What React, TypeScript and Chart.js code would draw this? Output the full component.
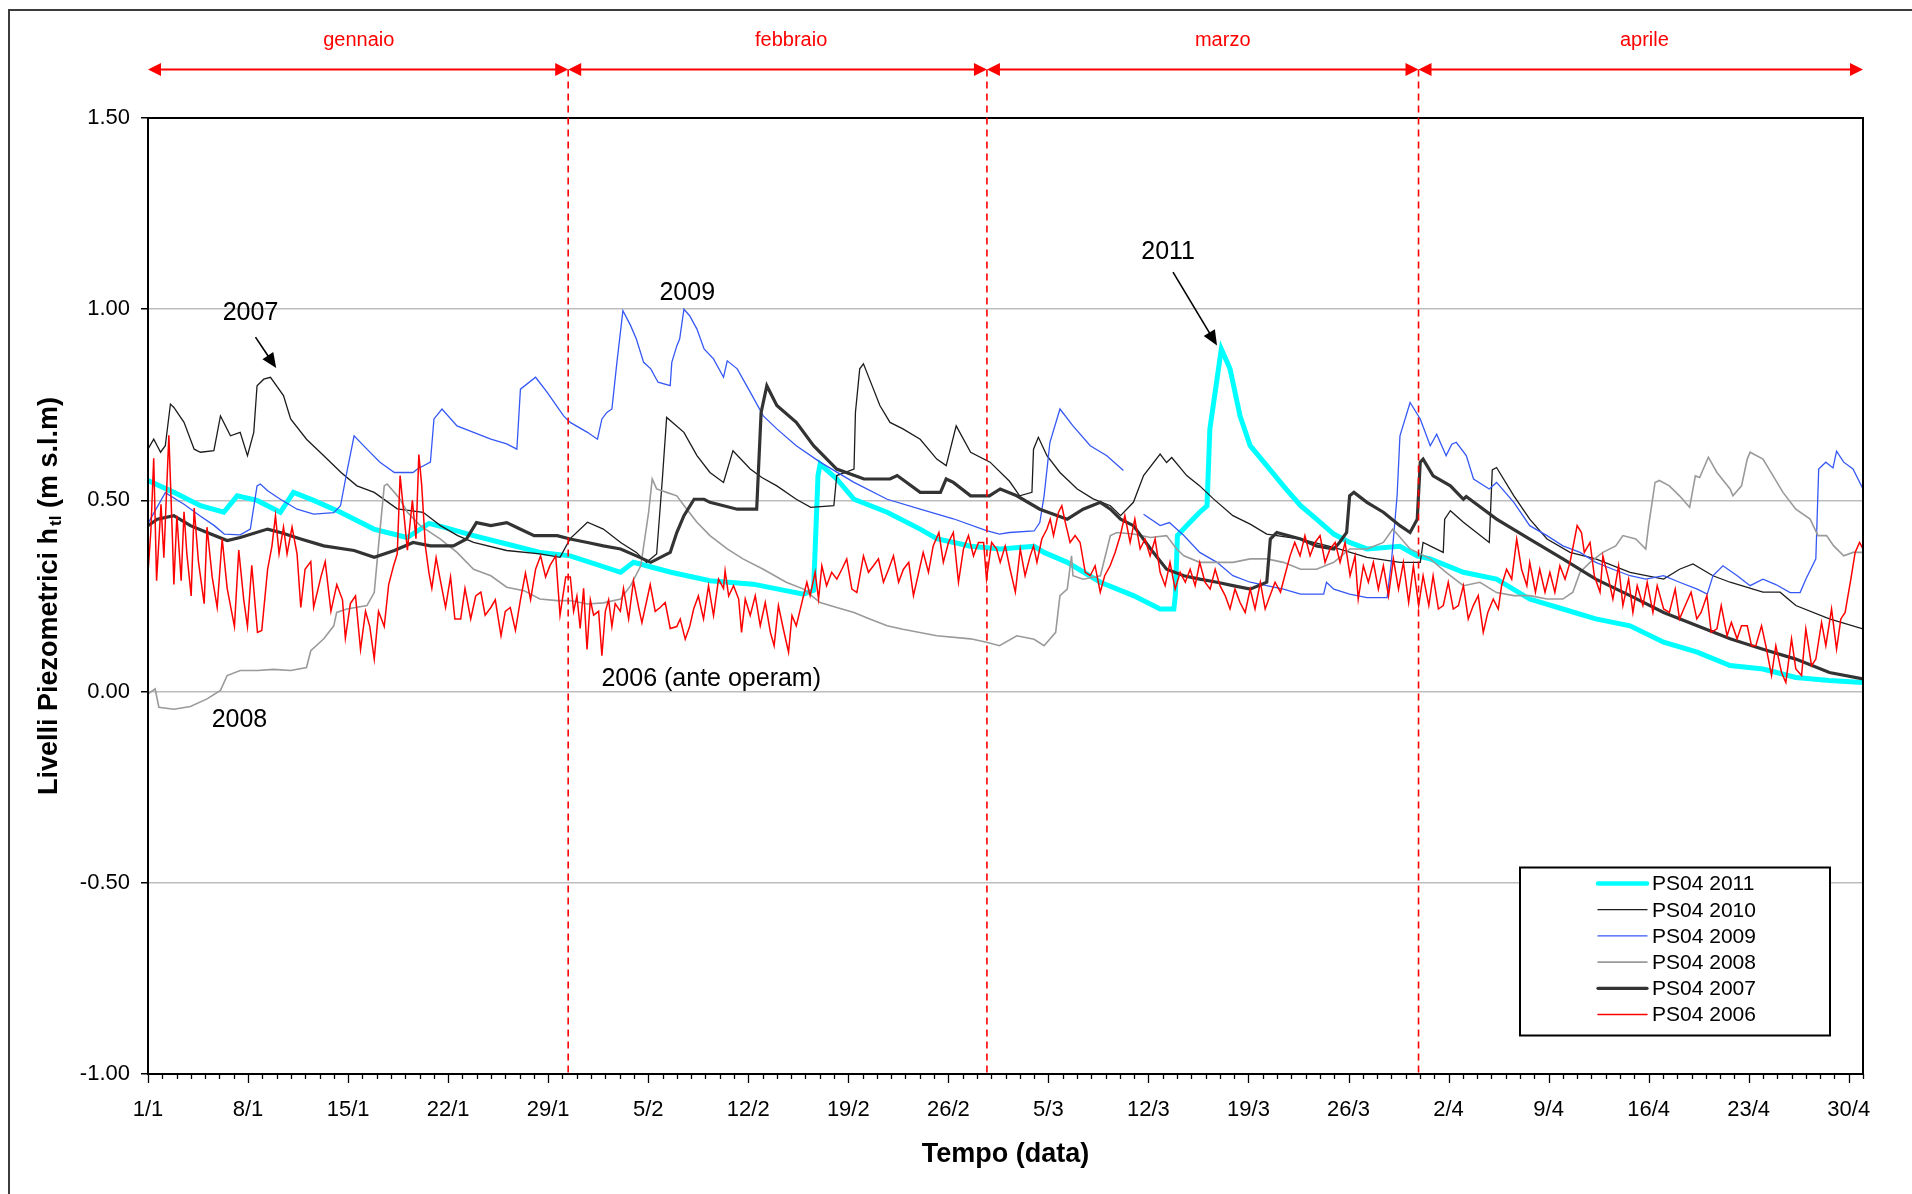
import React, { useEffect, useRef } from 'react';
import { Chart, registerables } from 'chart.js';

Chart.register(...registerables);

const FONT = "'Liberation Sans', Arial, Helvetica, sans-serif";

// ---- axes ----
const X_MIN = 0;
const X_MAX = 120;
const X_TICK_DAYS = [0, 7, 14, 21, 28, 35, 42, 49, 56, 63, 70, 77, 84, 91, 98, 105, 112, 119];
const X_TICK_LABELS = ['1/1', '8/1', '15/1', '22/1', '29/1', '5/2', '12/2', '19/2', '26/2', '5/3', '12/3', '19/3', '26/3', '2/4', '9/4', '16/4', '23/4', '30/4'];
const Y_MIN = -1;
const Y_MAX = 1.5;
const Y_STEP = 0.5;
const X_TITLE = 'Tempo (data)';
const Y_TITLE_MAIN = 'Livelli Piezometrici h';
const Y_TITLE_SUB = 'tl';
const Y_TITLE_END = ' (m s.l.m)';

// ---- months ----
const MONTH_NAMES = ['gennaio', 'febbraio', 'marzo', 'aprile'];
const MONTH_BOUNDS = [0, 29.4, 58.7, 88.9, 120];
const MONTH_LABEL_POS = [14.75, 45.0, 75.2, 104.7];

// ---- annotations (day, level) ----
const NOTE_TEXTS = ['2007', '2009', '2011', '2008', '2006 (ante operam)'];
const NOTE_X = [7.17, 37.73, 71.38, 6.4, 39.41];
const NOTE_Y = [0.99, 1.042, 1.149, -0.074, 0.033];
const NOTE_ARROWS = [
  [7.52, 0.927, 8.97, 0.846],
  [71.72, 1.097, 74.8, 0.905],
];

// ---- series ----
const SERIES_LABELS = ['PS04 2011', 'PS04 2010', 'PS04 2009', 'PS04 2008', 'PS04 2007', 'PS04 2006'];

const S2011 = [
  [0, 0.552], [1.81, 0.521], [3.67, 0.486], [5.3, 0.469], [6.24, 0.512], [7.63, 0.5], [9.26, 0.469], [10.18, 0.521],
  [11.59, 0.5], [13.47, 0.469], [15.8, 0.425], [18.13, 0.403], [18.85, 0.42], [19.66, 0.44], [20.67, 0.43], [22.78, 0.408],
  [25.1, 0.386], [27.42, 0.364], [29.54, 0.355], [33.07, 0.312], [33.97, 0.338], [36.59, 0.312], [39.32, 0.29], [42.34, 0.281],
  [45.87, 0.255], [46.57, 0.265], [46.88, 0.565], [47.03, 0.595], [48.19, 0.556], [49.4, 0.503], [51.72, 0.469], [54.03, 0.425],
  [55.19, 0.4], [57.56, 0.38], [59.63, 0.373], [62.0, 0.38], [62.7, 0.364], [64.32, 0.338], [66.64, 0.286], [68.95, 0.251],
  [70.82, 0.216], [71.78, 0.216], [71.88, 0.25], [72.03, 0.408], [72.89, 0.442], [73.59, 0.469], [74.1, 0.486], [74.3, 0.687],
  [74.8, 0.817], [75.1, 0.896], [75.71, 0.844], [76.41, 0.721], [77.12, 0.643], [78.28, 0.591], [79.44, 0.538], [80.65, 0.486],
  [81.76, 0.451], [82.97, 0.412], [84.08, 0.39], [85.29, 0.373], [87.6, 0.38], [88.81, 0.355], [89.72, 0.347], [92.04, 0.312],
  [94.36, 0.294], [96.68, 0.242], [99.0, 0.216], [101.3, 0.19], [103.7, 0.172], [106.05, 0.129], [108.4, 0.103], [110.7, 0.068],
  [113.0, 0.059], [115.3, 0.037], [117.65, 0.029], [120, 0.024],
];

const S2010 = [
  [0, 0.634], [0.4, 0.66], [0.88, 0.626], [1.21, 0.643], [1.57, 0.752], [1.81, 0.743], [2.52, 0.704], [3.23, 0.634],
  [3.67, 0.626], [4.61, 0.63], [5.07, 0.721], [5.77, 0.669], [6.45, 0.678], [6.96, 0.617], [7.4, 0.678], [7.63, 0.8],
  [8.1, 0.817], [8.57, 0.822], [9.48, 0.774], [9.98, 0.713], [11.09, 0.66], [12.3, 0.617], [13.51, 0.573], [14.62, 0.538],
  [15.83, 0.521], [17.44, 0.478], [19.25, 0.469], [20.46, 0.434], [21.67, 0.408], [22.78, 0.39], [25.1, 0.369], [27.42, 0.36],
  [28.83, 0.351], [29.54, 0.4], [30.75, 0.443], [31.86, 0.425], [33.07, 0.39], [34.17, 0.364], [34.88, 0.338], [35.59, 0.36],
  [35.99, 0.556], [36.29, 0.717], [37.5, 0.678], [38.41, 0.617], [39.32, 0.573], [40.27, 0.547], [40.93, 0.63], [42.14, 0.582],
  [42.95, 0.56], [44.0, 0.538], [45.36, 0.503], [46.37, 0.482], [47.99, 0.486], [48.19, 0.565], [49.4, 0.582], [49.5, 0.73],
  [49.8, 0.844], [50.06, 0.857], [50.76, 0.791], [51.21, 0.748], [51.92, 0.704], [52.82, 0.687], [54.03, 0.66], [55.19, 0.608],
  [55.85, 0.591], [56.55, 0.695], [57.56, 0.626], [58.92, 0.6], [60.28, 0.55], [60.99, 0.512], [61.85, 0.521], [61.96, 0.634],
  [62.3, 0.665], [62.9, 0.617], [63.81, 0.573], [65.02, 0.53], [66.13, 0.504], [67.34, 0.486], [68.05, 0.46], [68.95, 0.495],
  [69.66, 0.565], [70.82, 0.621], [71.27, 0.599], [71.63, 0.612], [72.68, 0.565], [73.59, 0.538], [74.55, 0.504], [75.91, 0.46],
  [77.12, 0.438], [78.28, 0.412], [80.65, 0.399], [82.97, 0.377], [85.29, 0.351], [87.6, 0.338], [89.02, 0.338], [89.22, 0.39],
  [90.63, 0.364], [90.73, 0.451], [91.13, 0.473], [92.04, 0.443], [93.85, 0.39], [94.06, 0.58], [94.36, 0.586], [95.57, 0.512],
  [96.68, 0.451], [97.89, 0.399], [99.5, 0.364], [101.3, 0.347], [103.7, 0.312], [106.05, 0.294], [107.16, 0.32], [108.1, 0.334],
  [109.5, 0.303], [110.7, 0.286], [113.0, 0.26], [114.2, 0.26], [115.3, 0.225], [117.65, 0.19], [120, 0.164],
];

const S2009 = [
  [0, 0.44], [1.21, 0.52], [2.52, 0.49], [3.63, 0.46], [4.64, 0.434], [5.34, 0.412], [6.45, 0.41], [7.16, 0.425],
  [7.63, 0.538], [7.86, 0.543], [8.37, 0.525], [9.26, 0.503], [10.43, 0.477], [11.59, 0.464], [13.0, 0.468], [13.47, 0.486],
  [13.91, 0.573], [14.42, 0.669], [15.32, 0.634], [16.23, 0.6], [17.24, 0.573], [18.55, 0.573], [18.85, 0.582], [19.76, 0.6],
  [20.01, 0.713], [20.57, 0.739], [21.62, 0.695], [22.78, 0.678], [23.99, 0.66], [25.1, 0.648], [25.81, 0.634], [26.06, 0.791],
  [27.12, 0.822], [27.92, 0.783], [29.08, 0.721], [29.54, 0.704], [30.75, 0.678], [31.45, 0.66], [31.76, 0.713], [32.11, 0.73],
  [32.46, 0.739], [32.56, 0.774], [32.81, 0.861], [33.23, 0.996], [33.77, 0.957], [34.17, 0.922], [34.68, 0.861], [35.18, 0.844],
  [35.69, 0.809], [36.54, 0.8], [36.65, 0.861], [37.0, 0.904], [37.2, 0.922], [37.5, 1.0], [37.9, 0.983], [38.41, 0.948],
  [38.91, 0.896], [39.57, 0.87], [40.27, 0.822], [40.53, 0.865], [41.23, 0.844], [42.14, 0.783], [43.05, 0.721], [44.0, 0.687],
  [45.36, 0.643], [47.03, 0.6], [49.4, 0.547], [51.72, 0.503], [54.03, 0.477], [56.35, 0.452], [58.67, 0.421], [59.58, 0.412],
  [60.28, 0.416], [62.0, 0.42], [62.4, 0.442], [62.7, 0.512], [63.11, 0.652], [63.81, 0.739], [64.72, 0.695], [65.93, 0.643],
  [67.09, 0.617], [68.25, 0.578], [68.9, null], [69.66, 0.464], [70.82, 0.434], [71.47, 0.442], [72.48, 0.408], [73.59, 0.364],
  [74.8, 0.338], [75.91, 0.303], [77.12, 0.286], [78.28, 0.277], [79.44, 0.268], [80.65, 0.255], [82.26, 0.255], [82.46, 0.286],
  [82.97, 0.268], [84.08, 0.255], [85.29, 0.246], [86.7, 0.246], [87.0, 0.338], [87.4, 0.512], [87.6, 0.669], [88.31, 0.756],
  [89.02, 0.713], [89.72, 0.643], [90.17, 0.673], [90.83, 0.617], [91.23, 0.647], [91.54, 0.652], [92.24, 0.617], [92.75, 0.556],
  [93.85, 0.53], [94.36, 0.547], [95.57, 0.495], [96.68, 0.434], [97.89, 0.408], [99.0, 0.381], [100.2, 0.364], [101.3, 0.338],
  [102.5, 0.32], [103.7, 0.303], [104.8, 0.294], [106.05, 0.303], [107.16, 0.286], [108.4, 0.268], [109.1, 0.255], [109.5, 0.303],
  [110.2, 0.329], [111.2, 0.303], [112.1, 0.277], [113.0, 0.294], [113.9, 0.28], [114.9, 0.259], [115.6, 0.259], [116.0, 0.294],
  [116.7, 0.347], [116.9, 0.582], [117.4, 0.6], [117.9, 0.585], [118.15, 0.629], [118.65, 0.6], [119.3, 0.582], [120, 0.53],
];

const S2008 = [
  [0, -0.006], [0.5, 0.007], [0.76, -0.041], [1.81, -0.046], [2.97, -0.039], [4.13, -0.019], [5.07, 0.003], [5.54, 0.042],
  [6.45, 0.055], [7.66, 0.055], [8.77, 0.058], [9.98, 0.055], [11.09, 0.063], [11.39, 0.107], [12.3, 0.138], [13.0, 0.172],
  [13.2, 0.207], [13.91, 0.216], [15.32, 0.225], [15.83, 0.259], [16.13, 0.381], [16.53, 0.538], [16.73, 0.543], [17.24, 0.521],
  [17.64, 0.503], [18.15, 0.469], [19.05, 0.434], [20.46, 0.399], [21.62, 0.364], [22.78, 0.32], [23.99, 0.303], [25.1, 0.273],
  [26.31, 0.264], [27.42, 0.242], [28.63, 0.238], [29.54, 0.238], [30.75, 0.229], [31.86, 0.232], [33.07, 0.242], [33.77, 0.277],
  [34.48, 0.329], [35.03, 0.469], [35.28, 0.556], [35.59, 0.53], [36.29, 0.521], [37.0, 0.512], [37.7, 0.477], [38.41, 0.443],
  [39.32, 0.408], [40.53, 0.373], [41.63, 0.347], [43.05, 0.32], [44.66, 0.286], [45.87, 0.268], [47.03, 0.233], [48.19, 0.22],
  [49.4, 0.207], [50.5, 0.19], [51.72, 0.172], [52.82, 0.163], [55.19, 0.146], [57.56, 0.138], [58.67, 0.129], [59.58, 0.12],
  [60.79, 0.146], [62.0, 0.137], [62.7, 0.12], [63.51, 0.155], [63.81, 0.251], [64.32, 0.268], [64.62, 0.355], [64.72, 0.303],
  [65.43, 0.294], [66.64, 0.303], [67.34, 0.408], [67.8, 0.416], [68.95, 0.412], [70.16, 0.403], [71.27, 0.408], [71.98, 0.373],
  [72.48, 0.355], [73.59, 0.338], [74.8, 0.338], [75.91, 0.338], [77.12, 0.347], [78.28, 0.347], [79.44, 0.338], [80.65, 0.32],
  [81.76, 0.32], [82.97, 0.338], [84.08, 0.373], [85.29, 0.373], [86.44, 0.39], [87.1, 0.425], [88.31, 0.373], [89.72, 0.347],
  [90.83, 0.312], [92.04, 0.277], [93.2, 0.286], [94.36, 0.259], [95.57, 0.251], [96.68, 0.251], [97.89, 0.242], [99.0, 0.242],
  [99.7, 0.26], [100.2, 0.312], [100.9, 0.338], [101.8, 0.364], [102.7, 0.381], [103.2, 0.408], [104.1, 0.399], [104.8, 0.373],
  [105.0, 0.434], [105.45, 0.547], [105.75, 0.552], [106.45, 0.538], [107.16, 0.512], [107.87, 0.482], [108.27, 0.564], [108.57, 0.56],
  [109.18, 0.613], [109.78, 0.573], [110.7, 0.53], [110.9, 0.512], [111.5, 0.538], [111.9, 0.608], [112.1, 0.626], [113.0, 0.608],
  [113.7, 0.565], [114.4, 0.521], [115.3, 0.477], [116.3, 0.451], [116.85, 0.408], [117.45, 0.408], [117.95, 0.381], [118.65, 0.355],
  [119.3, 0.364], [120, 0.364],
];

const S2007 = [
  [0, 0.434], [0.65, 0.451], [1.81, 0.46], [2.97, 0.434], [4.13, 0.416], [5.54, 0.395], [6.45, 0.403], [8.37, 0.425],
  [9.27, 0.416], [10.69, 0.399], [12.3, 0.381], [14.42, 0.369], [15.83, 0.351], [17.24, 0.369], [18.55, 0.39], [19.76, 0.381],
  [21.37, 0.381], [22.28, 0.399], [22.98, 0.442], [23.99, 0.434], [25.1, 0.442], [25.81, 0.429], [27.02, 0.408], [28.63, 0.408],
  [29.54, 0.399], [30.75, 0.39], [31.86, 0.381], [33.07, 0.373], [34.17, 0.355], [35.18, 0.338], [36.54, 0.364], [37.0, 0.416],
  [37.5, 0.46], [38.21, 0.503], [38.91, 0.503], [39.32, 0.495], [41.23, 0.477], [42.59, 0.477], [42.9, 0.73], [43.3, 0.8],
  [44.0, 0.748], [45.36, 0.704], [46.57, 0.643], [48.19, 0.582], [50.1, 0.556], [51.92, 0.556], [52.42, 0.565], [54.03, 0.521],
  [55.45, 0.521], [55.85, 0.556], [56.35, 0.547], [57.56, 0.512], [58.87, 0.512], [59.63, 0.53], [60.79, 0.512], [62.4, 0.477],
  [64.32, 0.451], [65.43, 0.477], [66.64, 0.495], [67.34, 0.477], [68.05, 0.451], [68.95, 0.434], [70.16, 0.373], [71.27, 0.32],
  [72.48, 0.303], [73.59, 0.294], [74.8, 0.286], [75.91, 0.277], [77.12, 0.268], [78.28, 0.286], [78.53, 0.399], [78.98, 0.416],
  [80.65, 0.399], [81.76, 0.381], [82.97, 0.373], [83.37, 0.39], [83.87, 0.416], [84.08, 0.512], [84.38, 0.521], [85.29, 0.495],
  [86.44, 0.469], [87.6, 0.434], [88.31, 0.416], [88.81, 0.451], [89.02, 0.6], [89.22, 0.608], [89.92, 0.564], [91.13, 0.538],
  [92.04, 0.503], [92.24, 0.51], [94.36, 0.451], [96.68, 0.399], [99.0, 0.347], [101.3, 0.294], [103.7, 0.251], [106.05, 0.207],
  [108.4, 0.172], [110.7, 0.138], [113.0, 0.111], [115.3, 0.085], [117.65, 0.05], [120, 0.033],
];

const S2006 = [
  [0, 0.31], [0.2, 0.42], [0.4, 0.61], [0.6, 0.29], [0.91, 0.49], [1.11, 0.35], [1.46, 0.67], [1.71, 0.4],
  [1.81, 0.28], [2.02, 0.46], [2.32, 0.29], [2.52, 0.47], [2.72, 0.36], [3.02, 0.25], [3.23, 0.48], [3.53, 0.34],
  [3.93, 0.23], [4.13, 0.43], [4.49, 0.3], [4.84, 0.22], [5.19, 0.4], [5.54, 0.27], [6.05, 0.17], [6.35, 0.37],
  [6.7, 0.24], [6.96, 0.17], [7.26, 0.33], [7.66, 0.155], [7.96, 0.16], [8.37, 0.32], [8.67, 0.38], [8.92, 0.46],
  [9.17, 0.36], [9.48, 0.43], [9.73, 0.36], [10.08, 0.43], [10.43, 0.36], [10.69, 0.22], [10.99, 0.32], [11.39, 0.34],
  [11.59, 0.22], [12.1, 0.3], [12.4, 0.34], [12.8, 0.21], [13.21, 0.28], [13.61, 0.24], [13.81, 0.14], [14.16, 0.23],
  [14.52, 0.25], [14.87, 0.11], [15.22, 0.21], [15.52, 0.17], [15.83, 0.085], [16.13, 0.21], [16.53, 0.17], [16.84, 0.28],
  [17.19, 0.33], [17.44, 0.36], [17.64, 0.565], [17.89, 0.47], [18.15, 0.37], [18.5, 0.5], [18.75, 0.4], [18.95, 0.62],
  [19.15, 0.54], [19.41, 0.38], [19.66, 0.31], [19.86, 0.27], [20.16, 0.35], [20.46, 0.29], [20.82, 0.22], [21.17, 0.3],
  [21.47, 0.19], [21.88, 0.19], [22.18, 0.27], [22.58, 0.19], [22.93, 0.25], [23.29, 0.26], [23.59, 0.2], [23.99, 0.22],
  [24.3, 0.24], [24.7, 0.146], [25.0, 0.21], [25.35, 0.22], [25.71, 0.16], [26.06, 0.24], [26.41, 0.31], [26.77, 0.24],
  [27.12, 0.32], [27.47, 0.355], [27.82, 0.3], [28.13, 0.33], [28.53, 0.355], [28.83, 0.2], [29.23, 0.3], [29.55, 0.3],
  [29.78, 0.21], [30.01, 0.25], [30.24, 0.165], [30.48, 0.27], [30.72, 0.11], [30.95, 0.24], [31.18, 0.2], [31.53, 0.21],
  [31.76, 0.094], [32.0, 0.21], [32.23, 0.24], [32.46, 0.17], [32.69, 0.23], [33.05, 0.21], [33.27, 0.27], [33.63, 0.19],
  [33.97, 0.29], [34.33, 0.22], [34.56, 0.18], [35.14, 0.28], [35.49, 0.21], [35.84, 0.22], [36.19, 0.233], [36.54, 0.165],
  [37.0, 0.17], [37.24, 0.19], [37.59, 0.137], [37.9, 0.17], [38.18, 0.216], [38.51, 0.25], [38.87, 0.19], [39.22, 0.277],
  [39.57, 0.199], [39.92, 0.294], [40.27, 0.27], [40.38, 0.316], [40.63, 0.25], [40.97, 0.277], [41.33, 0.242], [41.53, 0.155],
  [41.79, 0.242], [42.14, 0.199], [42.49, 0.251], [42.84, 0.172], [43.19, 0.233], [43.55, 0.155], [43.81, 0.12], [44.11, 0.225],
  [44.46, 0.163], [44.82, 0.103], [45.06, 0.199], [45.36, 0.172], [45.87, 0.251], [46.1, 0.286], [46.33, 0.251], [46.68, 0.312],
  [46.92, 0.242], [47.15, 0.329], [47.48, 0.277], [47.84, 0.312], [48.2, 0.294], [48.55, 0.32], [48.89, 0.347], [49.25, 0.268],
  [49.6, 0.259], [50.06, 0.355], [50.41, 0.312], [50.76, 0.329], [51.11, 0.347], [51.46, 0.286], [51.82, 0.32], [52.16, 0.355],
  [52.52, 0.286], [52.86, 0.32], [53.23, 0.338], [53.56, 0.251], [53.93, 0.312], [54.24, 0.364], [54.61, 0.312], [54.94, 0.381],
  [55.34, 0.416], [55.65, 0.338], [56.01, 0.39], [56.35, 0.416], [56.71, 0.286], [57.06, 0.373], [57.41, 0.408], [57.76, 0.355],
  [58.11, 0.39], [58.47, 0.39], [58.67, 0.294], [59.03, 0.39], [59.38, 0.373], [59.63, 0.338], [59.98, 0.381], [60.32, 0.32],
  [60.69, 0.26], [61.03, 0.373], [61.37, 0.303], [61.73, 0.355], [61.96, 0.381], [62.2, 0.338], [62.54, 0.399], [62.9, 0.425],
  [63.13, 0.451], [63.36, 0.408], [63.71, 0.469], [63.94, 0.486], [64.18, 0.443], [64.52, 0.39], [64.87, 0.408], [65.22, 0.39],
  [65.58, 0.312], [65.93, 0.303], [66.27, 0.329], [66.63, 0.26], [66.94, 0.303], [67.32, 0.329], [67.67, 0.364], [68.03, 0.408],
  [68.35, 0.46], [68.72, 0.39], [69.05, 0.451], [69.42, 0.373], [69.76, 0.399], [70.12, 0.355], [70.47, 0.399], [70.82, 0.312],
  [71.17, 0.277], [71.51, 0.338], [71.87, 0.268], [72.22, 0.312], [72.58, 0.286], [72.92, 0.32], [73.27, 0.277], [73.59, 0.338],
  [73.96, 0.286], [74.32, 0.268], [74.67, 0.32], [75.01, 0.277], [75.37, 0.251], [75.71, 0.216], [76.06, 0.268], [76.41, 0.233],
  [76.77, 0.207], [77.12, 0.268], [77.46, 0.216], [77.83, 0.286], [78.17, 0.216], [78.51, 0.251], [78.86, 0.286], [79.24, 0.26],
  [79.54, 0.303], [79.91, 0.355], [80.24, 0.39], [80.61, 0.355], [80.95, 0.408], [81.31, 0.355], [81.66, 0.39], [82.01, 0.408],
  [82.36, 0.338], [82.71, 0.373], [83.07, 0.39], [83.41, 0.338], [83.76, 0.39], [84.11, 0.303], [84.46, 0.355], [84.68, 0.242],
  [85.04, 0.329], [85.39, 0.286], [85.74, 0.338], [86.09, 0.268], [86.44, 0.329], [86.8, 0.25], [87.14, 0.347], [87.5, 0.268],
  [87.84, 0.338], [88.21, 0.233], [88.54, 0.329], [88.91, 0.225], [89.22, 0.303], [89.62, 0.225], [89.92, 0.303], [90.29, 0.216],
  [90.63, 0.225], [90.98, 0.286], [91.33, 0.216], [91.69, 0.225], [92.04, 0.277], [92.38, 0.19], [92.73, 0.225], [93.08, 0.251],
  [93.43, 0.155], [93.75, 0.207], [94.13, 0.242], [94.48, 0.216], [94.71, 0.277], [95.06, 0.32], [95.42, 0.294], [95.77, 0.399],
  [96.11, 0.32], [96.48, 0.277], [96.68, 0.338], [97.08, 0.26], [97.38, 0.32], [97.75, 0.26], [98.09, 0.312], [98.44, 0.26],
  [98.79, 0.329], [99.15, 0.294], [99.5, 0.338], [100.0, 0.434], [100.3, 0.416], [100.5, 0.364], [100.9, 0.39], [101.2, 0.303],
  [101.6, 0.26], [101.8, 0.355], [102.2, 0.294], [102.5, 0.242], [102.9, 0.329], [103.2, 0.225], [103.6, 0.294], [103.9, 0.207],
  [104.2, 0.277], [104.6, 0.225], [104.9, 0.286], [105.3, 0.207], [105.6, 0.277], [106.05, 0.216], [106.45, 0.207], [106.86, 0.268],
  [107.16, 0.19], [107.56, 0.225], [107.97, 0.26], [108.37, 0.19], [108.67, 0.207], [109.08, 0.251], [109.38, 0.155], [109.78, 0.164],
  [110.08, 0.225], [110.49, 0.146], [110.79, 0.181], [111.19, 0.138], [111.5, 0.172], [111.9, 0.172], [112.2, 0.12], [112.5, 0.12],
  [112.9, 0.172], [113.2, 0.12], [113.6, 0.042], [113.9, 0.12], [114.3, 0.05], [114.6, 0.024], [115.0, 0.138], [115.3, 0.059],
  [115.7, 0.042], [116.0, 0.164], [116.4, 0.068], [116.7, 0.085], [117.1, 0.181], [117.4, 0.12], [117.8, 0.216], [118.15, 0.111],
  [118.45, 0.19], [118.75, 0.207], [118.95, 0.251], [119.15, 0.294], [119.45, 0.364], [119.76, 0.39], [120, 0.373],
];

const SERIES_DATA = [S2011, S2010, S2009, S2008, S2007, S2006];
const SERIES_COLORS = ['#00FFFF', '#1c1c1c', '#3558F5', '#9a9a9a', '#333333', '#FF0000'];
const SERIES_WIDTHS = [5, 1.3, 1.3, 1.6, 3.2, 1.5];
const SERIES_ORDER = [6, 5, 4, 3, 2, 1];

function arrowHead(ctx: CanvasRenderingContext2D, x1: number, y1: number, x2: number, y2: number, len: number, hw: number) {
  const ang = Math.atan2(y2 - y1, x2 - x1);
  const c = Math.cos(ang), s = Math.sin(ang);
  ctx.beginPath();
  ctx.moveTo(x2, y2);
  ctx.lineTo(x2 - len * c + hw * s, y2 - len * s - hw * c);
  ctx.lineTo(x2 - len * c - hw * s, y2 - len * s + hw * c);
  ctx.closePath();
  ctx.fill();
}

const decorPlugin = {
  id: 'decor',
  beforeDraw(chart: any) {
    const ctx = chart.ctx as CanvasRenderingContext2D;
    ctx.save();
    ctx.fillStyle = '#ffffff';
    ctx.fillRect(0, 0, chart.width, chart.height);
    ctx.strokeStyle = '#3c3c3c';
    ctx.lineWidth = 2;
    ctx.beginPath();
    ctx.moveTo(9, chart.height + 5);
    ctx.lineTo(9, 10);
    ctx.lineTo(chart.width + 5, 10);
    ctx.stroke();
    ctx.restore();
  },
  afterDraw(chart: any) {
    const ctx = chart.ctx as CanvasRenderingContext2D;
    const a = chart.chartArea;
    const xs = chart.scales.x;
    const ys = chart.scales.y;
    ctx.save();

    // plot frame
    ctx.strokeStyle = '#000';
    ctx.lineWidth = 2;
    ctx.strokeRect(a.left, a.top, a.right - a.left, a.bottom - a.top);

    // x ticks (daily minor, weekly major)
    ctx.lineWidth = 1.3;
    ctx.beginPath();
    for (let d = X_MIN; d <= X_MAX; d++) {
      const px = Math.round(xs.getPixelForValue(d)) + 0.5;
      const major = X_TICK_DAYS.indexOf(d) >= 0;
      ctx.moveTo(px, a.bottom);
      ctx.lineTo(px, a.bottom + (major ? 9 : 5));
    }
    ctx.stroke();

    // month dividers and arrows
    const arrowY = a.top - 48.5;
    const labelY = a.top - 78;
    ctx.strokeStyle = '#FF0000';
    ctx.fillStyle = '#FF0000';
    ctx.lineWidth = 1.6;
    ctx.setLineDash([7, 5]);
    for (let i = 1; i < MONTH_BOUNDS.length - 1; i++) {
      const px = xs.getPixelForValue(MONTH_BOUNDS[i]);
      ctx.beginPath();
      ctx.moveTo(px, arrowY);
      ctx.lineTo(px, a.bottom);
      ctx.stroke();
    }
    ctx.setLineDash([]);
    ctx.lineWidth = 2;
    for (let i = 0; i < MONTH_BOUNDS.length - 1; i++) {
      const p0 = xs.getPixelForValue(MONTH_BOUNDS[i]);
      const p1 = xs.getPixelForValue(MONTH_BOUNDS[i + 1]);
      ctx.beginPath();
      ctx.moveTo(p0 + 4, arrowY);
      ctx.lineTo(p1 - 4, arrowY);
      ctx.stroke();
      arrowHead(ctx, p0 + 20, arrowY, p0, arrowY, 13, 6.5);
      arrowHead(ctx, p1 - 20, arrowY, p1, arrowY, 13, 6.5);
    }
    ctx.font = `20px ${FONT}`;
    ctx.textAlign = 'center';
    ctx.textBaseline = 'middle';
    MONTH_NAMES.forEach((m, i) => {
      ctx.fillText(m, xs.getPixelForValue(MONTH_LABEL_POS[i]), labelY);
    });

    // annotations
    ctx.fillStyle = '#000';
    ctx.strokeStyle = '#000';
    ctx.font = `25px ${FONT}`;
    NOTE_TEXTS.forEach((t, i) => {
      ctx.fillText(t, xs.getPixelForValue(NOTE_X[i]), ys.getPixelForValue(NOTE_Y[i]));
    });
    ctx.lineWidth = 1.6;
    NOTE_ARROWS.forEach(([x0, y0, x1, y1]) => {
      const px0 = xs.getPixelForValue(x0), py0 = ys.getPixelForValue(y0);
      const px1 = xs.getPixelForValue(x1), py1 = ys.getPixelForValue(y1);
      const ang = Math.atan2(py1 - py0, px1 - px0);
      ctx.beginPath();
      ctx.moveTo(px0, py0);
      ctx.lineTo(px1 - 10 * Math.cos(ang), py1 - 10 * Math.sin(ang));
      ctx.stroke();
      arrowHead(ctx, px0, py0, px1, py1, 15, 6.5);
    });

    // legend
    const lx = a.right - 343, ly = ys.getPixelForValue(-0.46);
    const lw = 310, lh = 168;
    ctx.fillStyle = '#fff';
    ctx.fillRect(lx, ly, lw, lh);
    ctx.strokeStyle = '#000';
    ctx.lineWidth = 2;
    ctx.strokeRect(lx, ly, lw, lh);
    ctx.font = `21px ${FONT}`;
    ctx.textAlign = 'left';
    ctx.textBaseline = 'middle';
    chart.data.datasets.forEach((ds: any, i: number) => {
      const ry = ly + 16 + i * 26.2;
      ctx.strokeStyle = ds.borderColor;
      ctx.lineWidth = Math.min(ds.borderWidth, 4.5);
      ctx.lineCap = 'round';
      ctx.beginPath();
      ctx.moveTo(lx + 78, ry);
      ctx.lineTo(lx + 127, ry);
      ctx.stroke();
      ctx.lineCap = 'butt';
      ctx.fillStyle = '#000';
      ctx.fillText(ds.label, lx + 132, ry + 1);
    });

    // axis titles
    ctx.fillStyle = '#000';
    ctx.font = `bold 27px ${FONT}`;
    ctx.textAlign = 'center';
    ctx.textBaseline = 'middle';
    ctx.fillText(X_TITLE, (a.left + a.right) / 2, a.bottom + 81);

    ctx.save();
    ctx.translate(50, (a.top + a.bottom) / 2);
    ctx.rotate(-Math.PI / 2);
    const bigF = `bold 27px ${FONT}`;
    const subF = `bold 17px ${FONT}`;
    ctx.font = bigF;
    const w1 = ctx.measureText(Y_TITLE_MAIN).width;
    const w3 = ctx.measureText(Y_TITLE_END).width;
    ctx.font = subF;
    const w2 = ctx.measureText(Y_TITLE_SUB).width + 2;
    const total = w1 + w2 + w3;
    let cx = -total / 2;
    ctx.textAlign = 'left';
    ctx.font = bigF;
    ctx.fillText(Y_TITLE_MAIN, cx, 0);
    cx += w1 + 2;
    ctx.font = subF;
    ctx.fillText(Y_TITLE_SUB, cx, 6);
    cx += w2 - 2;
    ctx.font = bigF;
    ctx.fillText(Y_TITLE_END, cx, 0);
    ctx.restore();

    ctx.restore();
  },
};

export default function App() {
  const ref = useRef<HTMLCanvasElement | null>(null);
  useEffect(() => {
    if (!ref.current) return;
    const datasets = SERIES_DATA.map((arr, i) => ({
      label: SERIES_LABELS[i],
      data: arr.map(([x, y]) => ({ x, y })),
      borderColor: SERIES_COLORS[i],
      backgroundColor: SERIES_COLORS[i],
      borderWidth: SERIES_WIDTHS[i],
      pointRadius: 0,
      tension: 0,
      fill: false,
      spanGaps: false,
      order: SERIES_ORDER[i],
    }));
    const chart = new Chart(ref.current, {
      type: 'line',
      data: { datasets },
      options: {
        animation: false,
        responsive: false,
        maintainAspectRatio: false,
        devicePixelRatio: 1,
        layout: { padding: { top: 118, right: 49, left: 0, bottom: 0 } },
        plugins: { legend: { display: false }, tooltip: { enabled: false }, title: { display: false } },
        scales: {
          x: {
            type: 'linear',
            min: X_MIN,
            max: X_MAX,
            afterFit: (s: any) => { s.height = 120; },
            grid: { display: false },
            border: { display: false },
            ticks: {
              stepSize: 1,
              autoSkip: false,
              maxRotation: 0,
              minRotation: 0,
              padding: 15,
              color: '#000',
              font: { family: FONT, size: 22 },
              callback: (v: any) => {
                const i = X_TICK_DAYS.indexOf(Number(v));
                return i >= 0 ? X_TICK_LABELS[i] : '';
              },
            },
          },
          y: {
            type: 'linear',
            min: Y_MIN,
            max: Y_MAX,
            afterFit: (s: any) => { s.width = 148; },
            border: { display: false },
            grid: {
              color: (c: any) => (c.tick && c.tick.value === Y_MAX ? 'rgba(0,0,0,0)' : '#bdbdbd'),
              lineWidth: 1.5,
              tickLength: 7,
              tickColor: '#000',
              tickWidth: 1.5,
            },
            ticks: {
              stepSize: Y_STEP,
              padding: 11,
              color: '#000',
              font: { family: FONT, size: 22 },
              callback: (v: any) => Number(v).toFixed(2),
            },
          },
        },
      },
      plugins: [decorPlugin],
    } as any);
    return () => chart.destroy();
  }, []);
  return (
    <canvas
      ref={ref}
      width={1912}
      height={1194}
      style={{ position: 'fixed', left: 0, top: 0, width: 1912, height: 1194, display: 'block' }}
    />
  );
}
